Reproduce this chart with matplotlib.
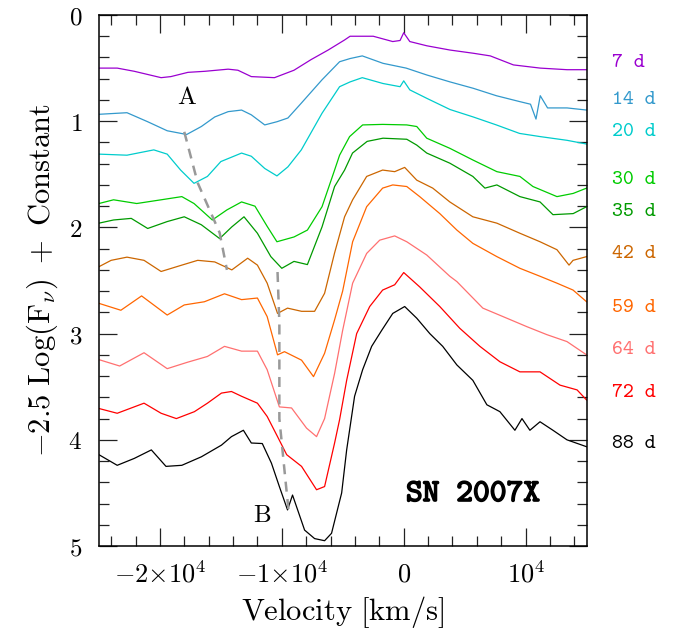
import numpy as np
import matplotlib
matplotlib.use('Agg')
import matplotlib.pyplot as plt
import matplotlib.patheffects as pe
from matplotlib.ticker import MultipleLocator

plt.rcParams['mathtext.fontset'] = 'cm'

# spectra: velocity [km/s] and -2.5 log(F) + constant
v_7 = [-25000, -23500, -22100, -19900, -19100, -17700, -16300, -14400, -13600, -12500,
       -10600, -9000, -7600, -6200, -4850, -4400, -2500, -900, -300, 0, 500, 1900, 3800,
       5700, 7100, 9000, 11200, 13400, 15000]
f_7 = [0.50, 0.50, 0.53, 0.59, 0.58, 0.54, 0.53, 0.51, 0.52, 0.58,
       0.59, 0.52, 0.42, 0.33, 0.235, 0.20, 0.20, 0.25, 0.24, 0.167, 0.25, 0.29, 0.33,
       0.36, 0.385, 0.47, 0.50, 0.515, 0.515]

v_14 = [-25000, -22700, -21000, -19400, -17800, -16600, -15500, -14400, -13300, -12500,
        -11400, -10400, -9500, -8400, -6700, -5260, -4400, -3400, -1700, 200, 1900, 3800,
        5700, 7600, 9500, 10400, 10850, 11200, 11800, 13400, 15000]
f_14 = [0.935, 0.92, 1.005, 1.09, 1.125, 1.05, 0.96, 0.91, 0.895, 0.94,
        1.035, 1.005, 0.97, 0.83, 0.61, 0.44, 0.41, 0.385, 0.455, 0.50, 0.565, 0.63,
        0.69, 0.76, 0.815, 0.84, 0.98, 0.76, 0.875, 0.875, 0.895]

v_20 = [-25000, -22700, -20500, -19400, -18300, -17200, -16100, -15000, -13300, -12500,
        -11400, -10400, -9500, -8400, -6700, -5260, -4400, -3400, -1700, -300, 0, 500,
        1900, 3800, 5700, 7600, 9500, 11200, 13400, 15000]
f_20 = [1.31, 1.32, 1.27, 1.31, 1.46, 1.585, 1.52, 1.38, 1.30, 1.33,
        1.445, 1.515, 1.43, 1.27, 0.925, 0.675, 0.63, 0.59, 0.645, 0.675, 0.62, 0.705,
        0.785, 0.89, 0.96, 1.035, 1.115, 1.145, 1.18, 1.215]

v_30 = [-25000, -23800, -21900, -19900, -18200, -17200, -15700, -14500, -13300, -12200,
        -11200, -10400, -9000, -7900, -6700, -5670, -5260, -4440, -3370, -1730, 250, 1070,
        1890, 3780, 5670, 7640, 9530, 10600, 12570, 13900, 15000]
f_30 = [1.775, 1.74, 1.775, 1.74, 1.71, 1.775, 1.93, 1.835, 1.76, 1.80,
        1.99, 2.135, 2.09, 2.025, 1.805, 1.46, 1.32, 1.145, 1.035, 1.03, 1.035, 1.05,
        1.16, 1.255, 1.365, 1.475, 1.52, 1.615, 1.71, 1.68, 1.63]

v_35 = [-25000, -23800, -22350, -21000, -19400, -18000, -16600, -15100, -14100, -13100,
        -12000, -10900, -10000, -9000, -7900, -6700, -5670, -4850, -4200, -3000, -1700,
        250, 1070, 1890, 3780, 5670, 6660, 7640, 9530, 11180, 12240, 13900, 15000]
f_35 = [1.96, 1.93, 1.915, 2.01, 1.945, 1.90, 1.975, 2.105, 1.995, 1.90,
        2.055, 2.275, 2.385, 2.32, 2.35, 1.995, 1.615, 1.46, 1.30, 1.19, 1.16,
        1.17, 1.225, 1.30, 1.395, 1.52, 1.63, 1.60, 1.71, 1.76, 1.88, 1.87, 1.805]

v_42 = [-25000, -24000, -22700, -21300, -19900, -18200, -16900, -15500, -14100, -12800,
        -12000, -11200, -10350, -9530, -8380, -7310, -6490, -5670, -4850, -4190, -3040,
        -1730, -740, 80, 1070, 2380, 3780, 5670, 7640, 9530, 11180, 12570, 13560, 13890,
        15000]
f_42 = [2.37, 2.31, 2.28, 2.31, 2.415, 2.355, 2.31, 2.325, 2.40, 2.29,
        2.355, 2.525, 2.81, 2.76, 2.79, 2.79, 2.62, 2.24, 1.90, 1.74, 1.52,
        1.46, 1.475, 1.435, 1.555, 1.63, 1.76, 1.90, 1.96, 2.055, 2.135, 2.21, 2.355, 2.31,
        2.275]

v_59 = [-25000, -23200, -21500, -19400, -18000, -16350, -14700, -13300, -12000, -11200,
        -10350, -9780, -8380, -7400, -6490, -5670, -5010, -4190, -3040, -1730, -900, 250,
        1310, 2960, 4360, 5670, 7640, 9530, 11180, 12570, 13890, 15000]
f_59 = [2.715, 2.78, 2.645, 2.825, 2.73, 2.70, 2.625, 2.68, 2.665, 2.84,
        3.20, 3.17, 3.25, 3.405, 3.185, 2.87, 2.60, 2.135, 1.805, 1.63, 1.60, 1.615,
        1.71, 1.87, 2.025, 2.15, 2.275, 2.385, 2.46, 2.525, 2.59, 2.70]

v_64 = [-25000, -23300, -21300, -19400, -17750, -16100, -14700, -13300, -12000, -11200,
        -10200, -9200, -7970, -7150, -6490, -5670, -5010, -4190, -3040, -1970, -740, 250,
        1890, 3780, 4360, 6490, 8460, 10110, 11750, 13390, 15000]
f_64 = [3.245, 3.305, 3.18, 3.33, 3.27, 3.215, 3.12, 3.165, 3.165, 3.34,
        3.69, 3.70, 3.89, 3.97, 3.80, 3.375, 2.97, 2.525, 2.245, 2.12, 2.08, 2.135,
        2.26, 2.46, 2.51, 2.76, 2.855, 2.935, 3.01, 3.075, 3.20]

v_72 = [-25000, -23500, -21300, -19900, -18650, -17170, -16100, -14950, -14130, -13300,
        -12000, -11200, -10350, -9600, -8380, -7150, -6490, -5670, -5260, -4680, -3860,
        -2790, -1730, -740, 0, 1310, 2960, 4600, 6250, 7890, 9530, 11180, 12820, 14220,
        15000]
f_72 = [3.705, 3.75, 3.655, 3.75, 3.80, 3.735, 3.655, 3.56, 3.545, 3.59,
        3.655, 3.78, 3.97, 4.14, 4.25, 4.47, 4.44, 4.03, 3.81, 3.44, 3.00,
        2.745, 2.59, 2.54, 2.425, 2.56, 2.745, 2.95, 3.12, 3.265, 3.36, 3.36, 3.485, 3.53,
        3.625]

v_88 = [-25000, -23500, -22100, -20700, -19500, -18200, -16600, -14950, -14130, -13150,
        -12500, -11600, -10850, -10200, -9530, -9120, -8130, -7310, -6490, -5920, -5090,
        -4680, -4030, -3370, -2630, -1810, -900, 80, 1070, 2140, 3200, 4360, 5670, 6820,
        7890, 9120, 9700, 10350, 11180, 12240, 13390, 15000]
f_88 = [4.14, 4.24, 4.175, 4.095, 4.25, 4.24, 4.16, 4.05, 3.97, 3.91,
        4.03, 4.035, 4.22, 4.44, 4.66, 4.52, 4.85, 4.93, 4.95, 4.88, 4.50,
        4.095, 3.59, 3.34, 3.12, 2.97, 2.81, 2.745, 2.855, 3.00, 3.12, 3.295, 3.44, 3.67,
        3.735, 3.91, 3.80, 3.91, 3.83, 3.91, 4.00, 4.065]

epochs = ['7 d', '14 d', '20 d', '30 d', '35 d', '42 d', '59 d', '64 d', '72 d', '88 d']
label_y = [0.45, 0.80, 1.10, 1.555, 1.855, 2.25, 2.76, 3.155, 3.56, 4.04]
colors = ['#9a00d0', '#3399cc', '#00cccc', '#00cc00', '#009a00',
          '#cc6600', '#ff6600', '#ff7070', '#ff0000', '#000000']
vels = [v_7, v_14, v_20, v_30, v_35, v_42, v_59, v_64, v_72, v_88]
fluxes = [f_7, f_14, f_20, f_30, f_35, f_42, f_59, f_64, f_72, f_88]

# velocity tracks of the two absorption features
a_v = [-18000, -16900, -15100, -14500]
a_y = [1.10, 1.58, 2.05, 2.40]
b_v = [-10350, -10200, -10200, -9700, -9450]
b_y = [2.42, 2.90, 3.80, 4.38, 4.66]

xticks = [-20000, -10000, 0, 10000]
xticklabels = [r'$-2{\times}10^4$', r'$-1{\times}10^4$', r'$0$', r'$10^4$']
yticks = [0, 1, 2, 3, 4, 5]

fig = plt.figure(figsize=(6.73, 6.33), dpi=100)
ax = fig.add_axes([0.147, 0.1374, 0.7246, 0.8389])

for v, f, c in zip(vels, fluxes, colors):
    ax.plot(v, f, color=c, lw=0.9)

ax.plot(a_v, a_y, color='#999999', lw=1.8, ls=(0, (4, 3)))
ax.plot(b_v, b_y, color='#999999', lw=1.8, ls=(0, (4, 3)))

ax.text(-17750, 0.77, r'$\mathrm{A}$', fontsize=18, ha='center', va='center')
ax.text(-11600, 4.71, r'$\mathrm{B}$', fontsize=18, ha='center', va='center')
ax.text(5670, 4.52, 'SN 2007X', family='cmtt10', fontsize=23, ha='center', va='center',
        path_effects=[pe.withStroke(linewidth=1.1, foreground='black')])

for lab, ly, c in zip(epochs, label_y, colors):
    ax.text(1.052, ly, lab, color=c, family='cmtt10', fontsize=15,
            ha='left', va='center', transform=ax.get_yaxis_transform(), clip_on=False)

ax.set_xlim(-25000, 15000)
ax.set_ylim(5, 0)
ax.set_xticks(xticks)
ax.set_xticklabels(xticklabels)
ax.set_yticks(yticks)
ax.set_yticklabels([r'$%d$' % t for t in yticks])
ax.xaxis.set_minor_locator(MultipleLocator(2000))
ax.yaxis.set_minor_locator(MultipleLocator(0.2))
ax.tick_params(which='both', direction='in', top=True, right=True, width=0.9, color='#222222')
ax.tick_params(which='major', length=13, labelsize=18)
ax.tick_params(axis='x', which='major', labelsize=19)
ax.tick_params(which='minor', length=7)
ax.tick_params(axis='x', pad=11)
ax.tick_params(axis='y', pad=12)
for s in ax.spines.values():
    s.set_linewidth(1.1)

ax.set_xlabel(r'$\mathrm{Velocity\ [km/s]}$', fontsize=22, labelpad=4)
ax.set_ylabel(r'$-2.5\ \mathrm{Log(F}_\nu\mathrm{)\ +\ Constant}$', fontsize=22, labelpad=6)

fig.savefig('out.png', dpi=100)
